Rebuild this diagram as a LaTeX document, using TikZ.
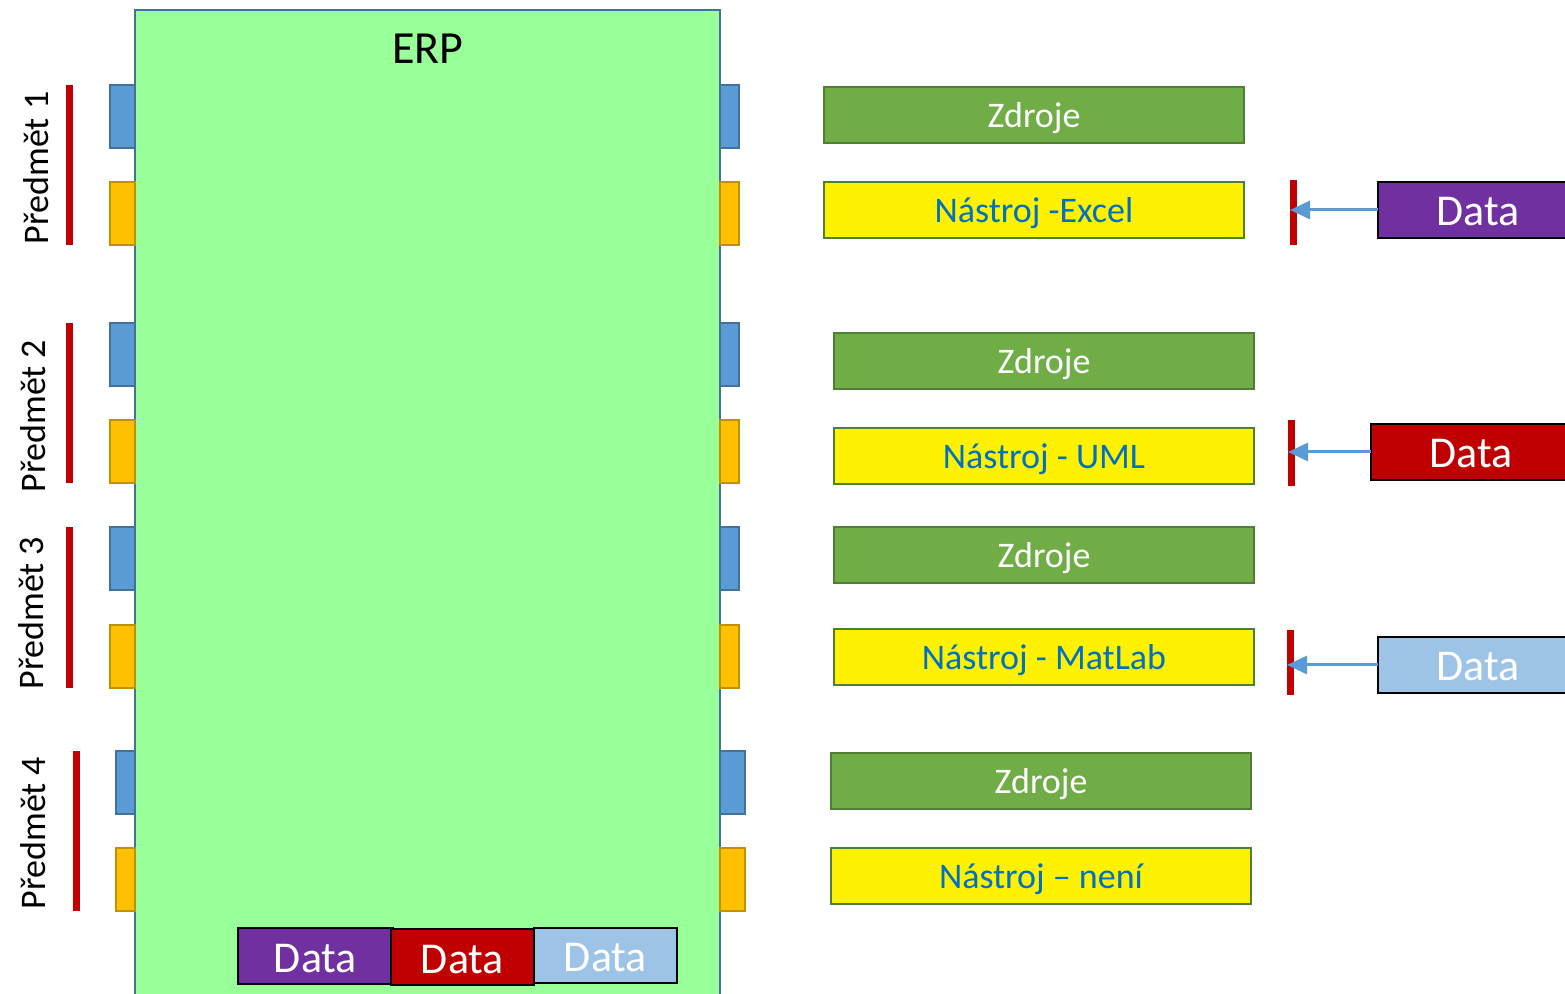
\documentclass[tikz,border=0pt]{standalone}
\usepackage{fontspec}
\setmainfont{Carlito}
\usetikzlibrary{arrows.meta}
\definecolor{erpgreen}{HTML}{99FF99}
\definecolor{erpborder}{HTML}{41719C}
\definecolor{tabblue}{HTML}{5B9BD5}
\definecolor{taborange}{HTML}{FFC000}
\definecolor{taborangeb}{HTML}{BF9000}
\definecolor{zgreen}{HTML}{70AD47}
\definecolor{zgreenb}{HTML}{507E32}
\definecolor{txtblue}{HTML}{0070C0}
\definecolor{dpurple}{HTML}{7030A0}
\definecolor{dred}{HTML}{C00000}
\definecolor{dlblue}{HTML}{9DC3E6}
\tikzset{
  box/.style={inner sep=0pt, outer sep=0pt, line width=1pt},
  btab/.style={box, fill=tabblue, draw=erpborder},
  otab/.style={box, fill=taborange, draw=taborangeb},
  zdroj/.style={box, fill=zgreen, draw=zgreenb, text=white, font=\fontsize{18}{20}\selectfont, text depth=1.5pt, text height=14pt},
  nastr/.style={box, fill=yellow, draw=zgreenb, text=txtblue, font=\fontsize{18}{20}\selectfont, text depth=1.5pt, text height=14pt},
  datab/.style={box, draw=black, text=white, font=\fontsize{22}{24}\selectfont, text depth=1pt, text height=17pt},
  rbar/.style={box, fill=dred, draw=none, minimum width=3pt},
  plabel/.style={rotate=90, font=\fontsize{18}{20}\selectfont},
  arr/.style={draw=tabblue, line width=1.5pt, -{Triangle[length=10pt,width=9pt]}}
}
\newcommand\rbox[6]{% style, name, x1, y1, x2, y2
  \node[#1, minimum width={(#5-#3)*0.5pt}, minimum height={(#6-#4)*0.5pt}] (#2) at ({(#3+#5)/2},{(#4+#6)/2}) {};}
\begin{document}
\begin{tikzpicture}[x=0.5pt,y=-0.5pt]
\useasboundingbox (0,0) rectangle (1565,994);
% ERP
\node[box, fill=erpgreen, draw=erpborder, minimum width=292.5pt, minimum height=500pt, anchor=north west] (erp) at (135,10) {};
\node[font=\fontsize{23}{25}\selectfont] (erpt) at (428,49) {ERP};
% left tabs
\rbox{btab}{lb1}{110}{85}{135}{148}
\rbox{otab}{lo1}{110}{182}{135}{245}
\rbox{btab}{lb2}{110}{323}{135}{386}
\rbox{otab}{lo2}{110}{420}{135}{483}
\rbox{btab}{lb3}{110}{527}{135}{590}
\rbox{otab}{lo3}{110}{625}{135}{688}
\rbox{btab}{lb4}{116}{751}{135}{814}
\rbox{otab}{lo4}{116}{848}{135}{911}
% right tabs
\rbox{btab}{rb1}{720}{85}{739}{148}
\rbox{otab}{ro1}{720}{182}{739}{245}
\rbox{btab}{rb2}{720}{323}{739}{386}
\rbox{otab}{ro2}{720}{420}{739}{483}
\rbox{btab}{rb3}{720}{527}{739}{590}
\rbox{otab}{ro3}{720}{625}{739}{688}
\rbox{btab}{rb4}{720}{751}{745}{814}
\rbox{otab}{ro4}{720}{848}{745}{911}
% left red bars
\rbox{rbar}{lr1}{66}{85}{73}{245}
\rbox{rbar}{lr2}{66}{323}{73}{483}
\rbox{rbar}{lr3}{66}{527}{73}{688}
\rbox{rbar}{lr4}{73}{751}{80}{911}
% labels
\node[plabel] (p1) at (36,168) {Předmět 1};
\node[plabel] (p2) at (33,416) {Předmět 2};
\node[plabel] (p3) at (31,613) {Předmět 3};
\node[plabel] (p4) at (33,833) {Předmět 4};
% right boxes
\node[zdroj, minimum width=210pt, minimum height=28pt] (z1) at (1034,115) {Zdroje};
\node[nastr, minimum width=210pt, minimum height=28pt] (n1) at (1034,210) {Nástroj -Excel};
\node[zdroj, minimum width=210pt, minimum height=28pt] (z2) at (1044,361) {Zdroje};
\node[nastr, minimum width=210pt, minimum height=28pt] (n2) at (1044,456) {Nástroj - UML};
\node[zdroj, minimum width=210pt, minimum height=28pt] (z3) at (1044,555) {Zdroje};
\node[nastr, minimum width=210pt, minimum height=28pt] (n3) at (1044,657) {Nástroj - MatLab};
\node[zdroj, minimum width=210pt, minimum height=28pt] (z4) at (1041,781) {Zdroje};
\node[nastr, minimum width=210pt, minimum height=28pt] (n4) at (1041,876) {Nástroj – není};
% right red bars
\rbox{rbar}{rr1}{1290}{180}{1297}{245}
\rbox{rbar}{rr2}{1288}{420}{1295}{486}
\rbox{rbar}{rr3}{1287}{630}{1294}{695}
% right data
\node[datab, fill=dpurple, minimum width=100pt, minimum height=28pt] (d1) at (1478,210) {Data};
\node[datab, fill=dred, minimum width=100pt, minimum height=28pt] (d2) at (1471,452) {Data};
\node[datab, fill=dlblue, minimum width=100pt, minimum height=28pt] (d3) at (1478,665) {Data};
\draw[arr] (d1.west) -- (d1.west -| rr1.west);
\draw[arr] (d2.west) -- (d2.west -| rr2.west);
\draw[arr] (d3.west) -- (d3.west -| rr3.west);
% bottom data
\node[datab, fill=dpurple, minimum width=77.5pt, minimum height=28pt] (bd1) at (315.5,956) {Data};
\node[datab, fill=dlblue, minimum width=71.5pt, minimum height=27.5pt] (bd3) at (605.5,955.5) {Data};
\node[datab, fill=dred, minimum width=71.5pt, minimum height=28pt] (bd2) at (462.5,957) {Data};
\end{tikzpicture}
\end{document}
